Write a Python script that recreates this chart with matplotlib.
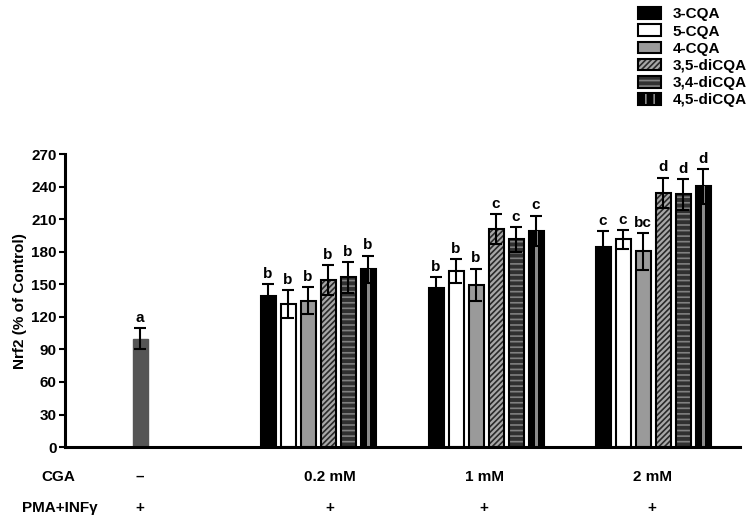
import numpy as np
import matplotlib
matplotlib.use("Agg")
import matplotlib.pyplot as plt
from matplotlib.patches import Patch

plt.rcParams["font.family"] = ["Liberation Sans", "DejaVu Sans"]
plt.rcParams["font.weight"] = "bold"
plt.rcParams["axes.labelweight"] = "bold"
plt.rcParams["hatch.linewidth"] = 1.2

compounds = ["3-CQA", "5-CQA", "4-CQA", "3,5-diCQA", "3,4-diCQA", "4,5-diCQA"]
doses = ["0.2 mM", "1 mM", "2 mM"]

control_mean = 100
control_err = 9.5
control_letter = "a"

# rows = compounds, cols = doses
means = np.array([
    [139, 146.5, 184.5],
    [132, 162.5, 191.5],
    [135, 149.5, 180.5],
    [154, 201, 234.5],
    [156.5, 191.5, 233],
    [164, 199.5, 240.5],
])
errs = np.array([
    [11, 10, 14.5],
    [13, 11, 8.5],
    [12.5, 15, 17],
    [13.5, 14, 14],
    [14, 11.5, 14],
    [12.5, 14, 16],
])
letters = [
    ["b", "b", "c"],
    ["b", "b", "c"],
    ["b", "b", "bc"],
    ["b", "c", "d"],
    ["b", "c", "d"],
    ["b", "c", "d"],
]

# style per compound: facecolor, hatch, hatch colour
styles = [
    ("black", None, None),
    ("white", None, None),
    ("#9a9a9a", None, None),
    ("#a8a8a8", "//////", "#2a2a2a"),
    ("#303030", "---", "#808080"),
    ("black", None, None),
]

group_x = [8.9, 17.3, 25.65]
label_x = [9.5, 17.2, 25.6]
ctrl_x = 0
width = 0.75
fs = 11

fig = plt.figure(figsize=(7.5, 5.18), dpi=100)
ax = fig.add_axes([0.0867, 0.137, 0.9, 0.565])

ax.bar(ctrl_x, control_mean, width=width, color="#555555", edgecolor="#555555")
ax.errorbar(ctrl_x, control_mean, yerr=control_err, fmt="none", ecolor="black",
            elinewidth=1.5, capsize=4, capthick=1.5)
ax.text(ctrl_x, control_mean + control_err + 3, control_letter, ha="center",
        va="bottom", fontsize=fs)

offsets = (np.arange(len(compounds)) - 2.5)
for i, comp in enumerate(compounds):
    fc, hatch, hc = styles[i]
    xs = np.array(group_x) + offsets[i]
    if hatch:
        ax.bar(xs, means[i], width=width, color=fc, hatch=hatch, edgecolor=hc,
               linewidth=0)
        ax.bar(xs, means[i], width=width, fill=False, edgecolor="black", linewidth=1.5)
    else:
        ax.bar(xs, means[i], width=width, color=fc, edgecolor="black", linewidth=1.5)
    if comp == "4,5-diCQA":
        ax.bar(xs, means[i], width=0.15, color="#8a8a8a", linewidth=0)
    ax.errorbar(xs, means[i], yerr=errs[i], fmt="none", ecolor="black",
                elinewidth=1.5, capsize=4, capthick=1.5, zorder=4)
    for x, m, e, l in zip(xs, means[i], errs[i], letters[i]):
        ax.text(x, m + e + 3, l, ha="center", va="bottom", fontsize=fs)

ax.set_xlim(-3.75, 30)
ax.set_ylim(0, 270)
ax.set_yticks(np.arange(0, 271, 30))
ax.tick_params(axis="y", labelsize=fs, width=1.5, length=4, pad=2)
ax.set_xticks([])
for s in ["top", "right"]:
    ax.spines[s].set_visible(False)
for s in ["left", "bottom"]:
    ax.spines[s].set_linewidth(2.2)
ax.set_ylabel("Nrf2 (% of Control)", fontsize=fs, fontweight="bold", labelpad=3)

# treatment rows under the axis
row_y = [-27.5, -56]
ax.text(-4.1, row_y[0], "CGA", ha="center", va="center", fontsize=fs,
        clip_on=False)
ax.text(-4.0, row_y[1], "PMA+INFγ", ha="center", va="center", fontsize=fs,
        clip_on=False)
ax.text(ctrl_x, row_y[0], "–", ha="center", va="center", fontsize=fs)
ax.text(ctrl_x, row_y[1], "+", ha="center", va="center", fontsize=fs)
for lx, d in zip(label_x, doses):
    ax.text(lx, row_y[0], d, ha="center", va="center", fontsize=fs)
    ax.text(lx, row_y[1], "+", ha="center", va="center", fontsize=fs)

# legend
handles = []
for i, comp in enumerate(compounds):
    fc, hatch, hc = styles[i]
    if hatch:
        h = (Patch(facecolor=fc, hatch=hatch, edgecolor=hc, linewidth=0),
             Patch(fill=False, edgecolor="black", linewidth=1.5))
    elif comp == "4,5-diCQA":
        h = (Patch(facecolor="black", hatch="||", edgecolor="#8a8a8a", linewidth=0),
             Patch(fill=False, edgecolor="black", linewidth=1.5))
    else:
        h = Patch(facecolor=fc, edgecolor="black", linewidth=1.5)
    handles.append(h)
fig.legend(handles, compounds, loc="upper left", bbox_to_anchor=(0.843, 0.998),
           frameon=False, fontsize=fs, handlelength=1.5, handleheight=0.8,
           labelspacing=0.2, handletextpad=0.75, borderaxespad=0)

fig.savefig("out.png", dpi=100)
